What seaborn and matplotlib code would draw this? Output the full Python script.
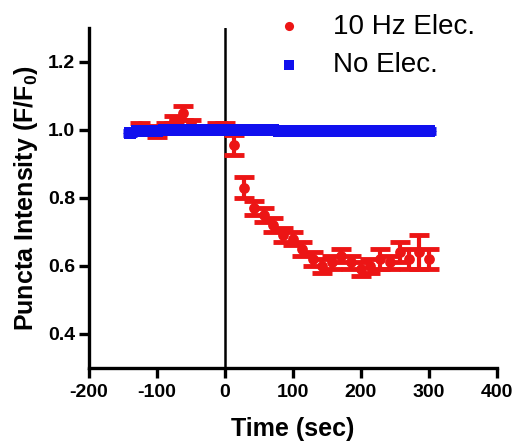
import matplotlib
matplotlib.use("Agg")
import matplotlib.pyplot as plt
import seaborn as sns
import numpy as np
import pandas as pd

# Data
stim_time = [-125, -112, -100, -87, -75, -62, -50, -37, -25, -12, 0,
             14, 28, 43, 57, 71, 85, 100, 114, 129, 143, 157, 171, 186,
             200, 214, 228, 243, 257, 271, 286, 300]
stim_mean = [1.01, 1.00, 0.99, 1.01, 1.03, 1.05, 1.02, 1.00, 1.00, 1.01, 1.01,
             0.955, 0.83, 0.77, 0.75, 0.72, 0.69, 0.68, 0.65, 0.62, 0.60, 0.61,
             0.63, 0.61, 0.59, 0.60, 0.62, 0.61, 0.64, 0.62, 0.64, 0.62]
stim_err = [0.01, 0.01, 0.01, 0.01, 0.01, 0.02, 0.01, 0.01, 0.01, 0.01, 0.01,
            0.03, 0.03, 0.02, 0.02, 0.02, 0.02, 0.02, 0.02, 0.02, 0.02, 0.02,
            0.02, 0.02, 0.02, 0.02, 0.03, 0.02, 0.03, 0.03, 0.05, 0.03]

ctrl_time = [-140, -130, -120, -110, -100, -90, -80, -70, -60, -50, -40, -30,
             -20, -10, 0, 10, 20, 30, 40, 50, 60, 70, 80, 90, 100, 110, 120,
             130, 140, 150, 160, 170, 180, 190, 200, 210, 220, 230, 240, 250,
             260, 270, 280, 290, 300]
ctrl_mean = [0.99, 0.995, 0.995, 0.995, 0.995, 1.0, 1.0, 1.0, 1.0, 1.0, 1.0, 1.0,
             1.0, 1.0, 1.0, 1.0, 1.0, 1.0, 1.0, 1.0, 1.0, 0.998, 0.997, 0.997,
             0.997, 0.995, 0.997, 0.997, 0.997, 0.997, 0.997, 0.997, 0.997, 0.995,
             0.995, 0.997, 0.997, 0.995, 0.995, 0.995, 0.997, 0.997, 0.995, 0.995, 0.997]
ctrl_err = [0.005] * len(ctrl_time)

series_labels = ["10 Hz Elec.", "No Elec."]
x_ticks = [-200, -100, 0, 100, 200, 300, 400]
y_ticks = [0.4, 0.6, 0.8, 1.0, 1.2]

red = "#ec1515"
blue = "#1010ee"

sns.set_theme(style="ticks")
plt.rcParams["font.family"] = ["Liberation Sans", "DejaVu Sans"]
plt.rcParams["mathtext.fontset"] = "custom"
plt.rcParams["mathtext.rm"] = "Liberation Sans:bold"
plt.rcParams["mathtext.bf"] = "Liberation Sans:bold"
plt.rcParams["mathtext.it"] = "Liberation Sans:bold"
for key in ["text.color", "axes.labelcolor", "xtick.color", "ytick.color",
            "axes.edgecolor", "xtick.labelcolor", "ytick.labelcolor"]:
    plt.rcParams[key] = "black"

fig = plt.figure(figsize=(5.18, 4.41), dpi=100)
ax = fig.add_axes([0.172, 0.166, 0.787, 0.771])

ax.axvline(0, color="black", lw=1.8, zorder=1)

df_s = pd.DataFrame({"t": stim_time, "v": stim_mean})
df_c = pd.DataFrame({"t": ctrl_time, "v": ctrl_mean})

ax.errorbar(stim_time, stim_mean, yerr=stim_err, fmt="none", ecolor=red,
            elinewidth=3, capsize=7, capthick=3.5, zorder=2)
sns.scatterplot(data=df_s, x="t", y="v", ax=ax, color=red, marker="o", s=60,
                edgecolor=red, linewidth=0, label=series_labels[0], zorder=3)
ax.errorbar(ctrl_time, ctrl_mean, yerr=ctrl_err, fmt="none", ecolor=blue,
            elinewidth=3, capsize=5, capthick=3.5, zorder=4)
sns.scatterplot(data=df_c, x="t", y="v", ax=ax, color=blue, marker="s", s=85,
                edgecolor=blue, linewidth=0, label=series_labels[1], zorder=5)

ax.set_xlim(-200, 400)
ax.set_ylim(0.3, 1.3)
ax.set_xticks(x_ticks)
ax.set_yticks(y_ticks)
ax.set_xticklabels([str(t) for t in x_ticks], fontweight="bold", fontsize=14,
                   color="black")
ax.set_yticklabels([f"{t:.1f}" for t in y_ticks], fontweight="bold", fontsize=14,
                   color="black")

ax.set_xlabel("Time (sec)", fontsize=18, fontweight="bold", labelpad=11,
              color="black")
ax.set_ylabel(r"Puncta Intensity (F/F$_\mathbf{0}$)", fontsize=18,
              fontweight="bold", labelpad=6, color="black")

for side in ["top", "right"]:
    ax.spines[side].set_visible(False)
for side in ["left", "bottom"]:
    ax.spines[side].set_linewidth(2.4)
    ax.spines[side].set_color("black")
ax.tick_params(axis="both", direction="out", length=7, width=2.4, colors="black")
ax.tick_params(axis="x", pad=5)
ax.tick_params(axis="y", pad=3)

leg = ax.legend(loc="upper left", bbox_to_anchor=(0.36, 1.115), frameon=False,
                fontsize=20, handletextpad=0.6, labelspacing=0.45,
                markerscale=0.85)
for txt in leg.get_texts():
    txt.set_color("black")

fig.savefig("out.png", dpi=100, facecolor="white")
